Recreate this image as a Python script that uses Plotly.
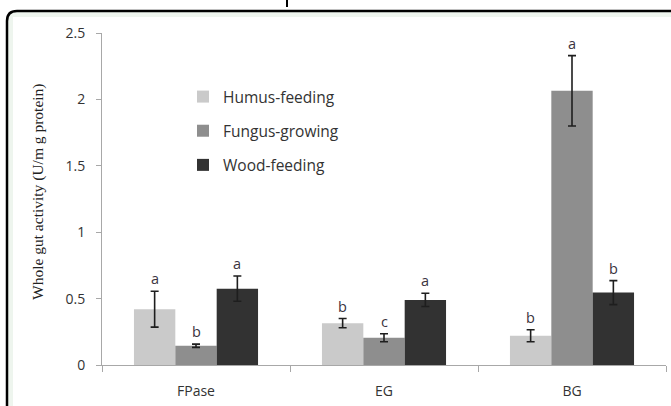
import plotly.graph_objects as go

# ---- data ----
categories = ["FPase", "EG", "BG"]
series_names = ["Humus-feeding", "Fungus-growing", "Wood-feeding"]
humus = [0.42, 0.315, 0.22]
fungus = [0.145, 0.205, 2.065]
wood = [0.575, 0.49, 0.545]
humus_err = [0.135, 0.035, 0.045]
fungus_err = [0.012, 0.03, 0.265]
wood_err = [0.095, 0.05, 0.09]
humus_letters = ["a", "b", "b"]
fungus_letters = ["b", "c", "a"]
wood_letters = ["a", "a", "b"]
y_ticks = [0, 0.5, 1, 1.5, 2, 2.5]
y_tick_labels = ["0", "0.5", "1", "1.5", "2", "2.5"]

colors = ["#cacaca", "#8e8e8e", "#323232"]

W, H = 671, 406
L, R, T, B = 102, 5, 33, 41
PW = W - L - R
PH = H - T - B
BARGAP = 0.34

def px(x):
    return (x - L) / PW

def py(y):
    return (H - B - y) / PH

fig = go.Figure()
values = [humus, fungus, wood]
errs = [humus_err, fungus_err, wood_err]
letters = [humus_letters, fungus_letters, wood_letters]
for i in range(3):
    fig.add_trace(go.Bar(
        x=categories, y=values[i], name=series_names[i],
        marker=dict(color=colors[i], line=dict(width=0)),
        error_y=dict(type="data", array=errs[i], visible=True,
                     color="#1e1e1e", thickness=1.6, width=4),
        legendgroup=f"g{i}",
    ))

cat_w = PW / len(categories)
bar_w = cat_w * (1 - BARGAP) / 3
for i in range(3):
    for j, c in enumerate(categories):
        fig.add_annotation(
            x=c, y=values[i][j] + errs[i][j], xref="x", yref="y",
            text=letters[i][j], showarrow=False,
            xshift=(i - 1) * bar_w, yshift=1, yanchor="bottom",
            font=dict(family="Open Sans", size=14.5, color="#3b3340"),
        )

# y-axis title
fig.add_annotation(
    x=px(38), y=py(192), xref="paper", yref="paper",
    text="Whole gut activity (U/m g protein)", textangle=-90,
    showarrow=False, xanchor="center", yanchor="middle",
    font=dict(family="Liberation Serif", size=15.5, color="#222222"),
)

# frame
r = 10
frame_path = (f"M {px(7)},{py(460)} L {px(7)},{py(11 + r)} "
              f"Q {px(7)},{py(11)} {px(7 + r)},{py(11)} L {px(720)},{py(11)}")
fig.add_shape(type="rect", xref="paper", yref="paper",
              x0=px(8), y0=py(460), x1=px(720), y1=py(12),
              fillcolor="#eef5ee", line=dict(width=0), layer="below")
fig.add_shape(type="rect", xref="paper", yref="paper",
              x0=px(13), y0=py(460), x1=px(720), y1=py(17),
              fillcolor="#ffffff", line=dict(width=0), layer="below")
fig.add_shape(type="path", xref="paper", yref="paper", path=frame_path,
              line=dict(color="#000000", width=2.5), layer="below")
fig.add_shape(type="line", xref="paper", yref="paper",
              x0=px(287), x1=px(287), y0=py(0), y1=py(7),
              line=dict(color="#000000", width=2))

fig.update_layout(
    width=W, height=H,
    margin=dict(l=L, r=R, t=T, b=B),
    paper_bgcolor="white", plot_bgcolor="rgba(0,0,0,0)",
    barmode="group", bargap=BARGAP, bargroupgap=0,
    showlegend=True,
    legend=dict(x=px(183), y=py(80), xanchor="left", yanchor="top",
                bgcolor="rgba(0,0,0,0)", tracegroupgap=11,
                font=dict(family="Open Sans", size=15.5, color="#333333"),
                itemwidth=30, traceorder="grouped"),
    xaxis=dict(showline=True, linecolor="#a8a8a8", linewidth=1,
               ticks="outside", tickson="boundaries", ticklen=6,
               tickcolor="#a8a8a8", showgrid=False,
               tickfont=dict(family="Open Sans", size=14, color="#333333"),
               ticklabelstandoff=13),
    yaxis=dict(range=[0, 2.5], tickvals=y_ticks, ticktext=y_tick_labels,
               showline=True, linecolor="#a8a8a8", linewidth=1,
               ticks="outside", ticklen=5, tickcolor="#a8a8a8",
               showgrid=False, zeroline=False,
               tickfont=dict(family="Open Sans", size=14, color="#333333"),
               ticklabelstandoff=8),
)

fig.write_html("out.html", config={"displayModeBar": False},
               post_script="document.body.style.margin='0';")
